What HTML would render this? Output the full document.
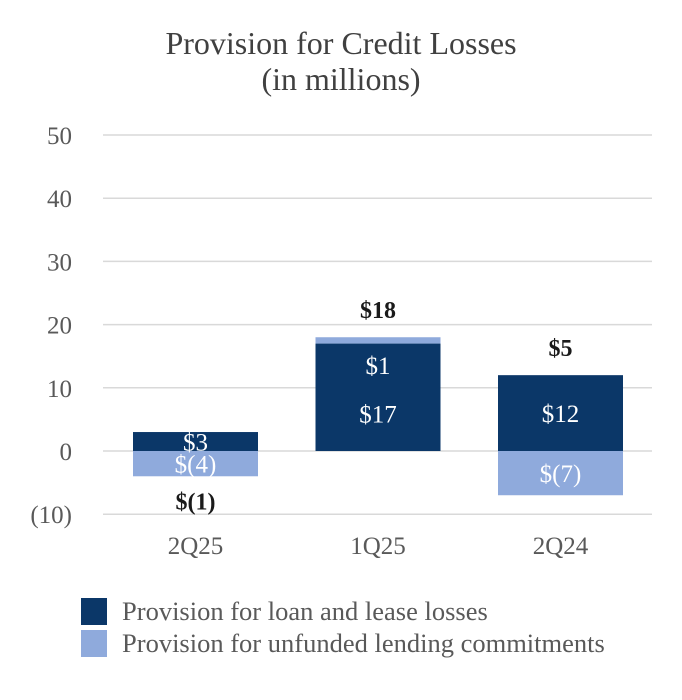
<!DOCTYPE html>
<html><head><meta charset="utf-8"><style>
body{margin:0;background:#fff;}
svg{display:block;font-family:"Liberation Serif",serif;}
</style></head><body>
<svg id="chart" width="682" height="700">
<text x="341" y="54" text-anchor="middle" font-size="32" fill="#404040">Provision for Credit Losses</text>
<text x="341" y="90" text-anchor="middle" font-size="32" fill="#404040">(in millions)</text>
<g id="grid"></g><g id="bars"></g><g id="labels"></g>
<rect x="81" y="598" width="26" height="27" fill="#0b3768"/>
<text x="122" y="620" font-size="26.5" fill="#595959">Provision for loan and lease losses</text>
<rect x="81" y="630" width="26" height="27" fill="#8faadc"/>
<text x="122" y="652" font-size="26.5" fill="#595959">Provision for unfunded lending commitments</text>
</svg>
<script>
const categories=["2Q25","1Q25","2Q24"];
const loanValues=[3,17,12];
const unfundedValues=[-4,1,-7];
const totalLabels=["$(1)","$18","$5"];
const loanLabels=["$3","$17","$12"];
const unfundedLabels=["$(4)","$1","$(7)"];
const ticks=[50,40,30,20,10,0,-10];
const tickLabels=["50","40","30","20","10","0","(10)"];
const NS="http://www.w3.org/2000/svg";
const y=v=>451-v*6.32;
const xc=i=>195.5+i*182.5;
const bw=125;
function mk(tag,attrs,parent,text){const e=document.createElementNS(NS,tag);for(const k in attrs)e.setAttribute(k,attrs[k]);if(text!==undefined)e.textContent=text;document.getElementById(parent).appendChild(e);return e;}
ticks.forEach((t,i)=>{
 const l=mk("line",{x1:103,x2:652,y1:y(t),y2:y(t),stroke:"#d9d9d9","stroke-width":1.5},"grid");
 
 
 const tx=mk("text",{x:72,y:y(t)+9,"text-anchor":"end","font-size":25,fill:"#595959"},"grid",tickLabels[i]);
 
 
});
categories.forEach((c,i)=>{
 const L=loanValues[i],U=unfundedValues[i];
 const d=mk("rect",{x:xc(i)-bw/2,y:Math.min(y(0),y(L)),width:bw,height:Math.abs(y(L)-y(0)),fill:"#0b3768"},"bars");
 
 
 let u0=U>=0?L:0,u1=U>=0?L+U:U;
 const u=mk("rect",{x:xc(i)-bw/2,y:Math.min(y(u0),y(u1)),width:bw,height:Math.abs(y(u1)-y(u0)),fill:"#8faadc"},"bars");
 
 
 const cat=mk("text",{x:xc(i),y:554,"text-anchor":"middle","font-size":25,fill:"#595959"},"labels",c);
 
 
 let ly=L<6?y(L/2)+9:(U>0?y(L*0.35)+9:y(L/2)+9);
 const ll=mk("text",{x:xc(i),y:ly,"text-anchor":"middle","font-size":25,fill:"#fff"},"labels",loanLabels[i]);
 
 
 let uy=U>0?y(L*0.8)+9:y(U/2)+9;
 const ul=mk("text",{x:xc(i),y:uy,"text-anchor":"middle","font-size":25,fill:"#fff"},"labels",unfundedLabels[i]);
 
 
 const tot=L+U;const top=Math.max(L,L+U,0),bot=Math.min(0,U);
 let ty=tot>=0?y(top)-19:y(bot)+33;
 const tl=mk("text",{x:xc(i),y:ty,"text-anchor":"middle","font-size":24,"font-weight":"bold",fill:"#1a1a1a"},"labels",totalLabels[i]);
 
 
});
</script>
</body></html>
